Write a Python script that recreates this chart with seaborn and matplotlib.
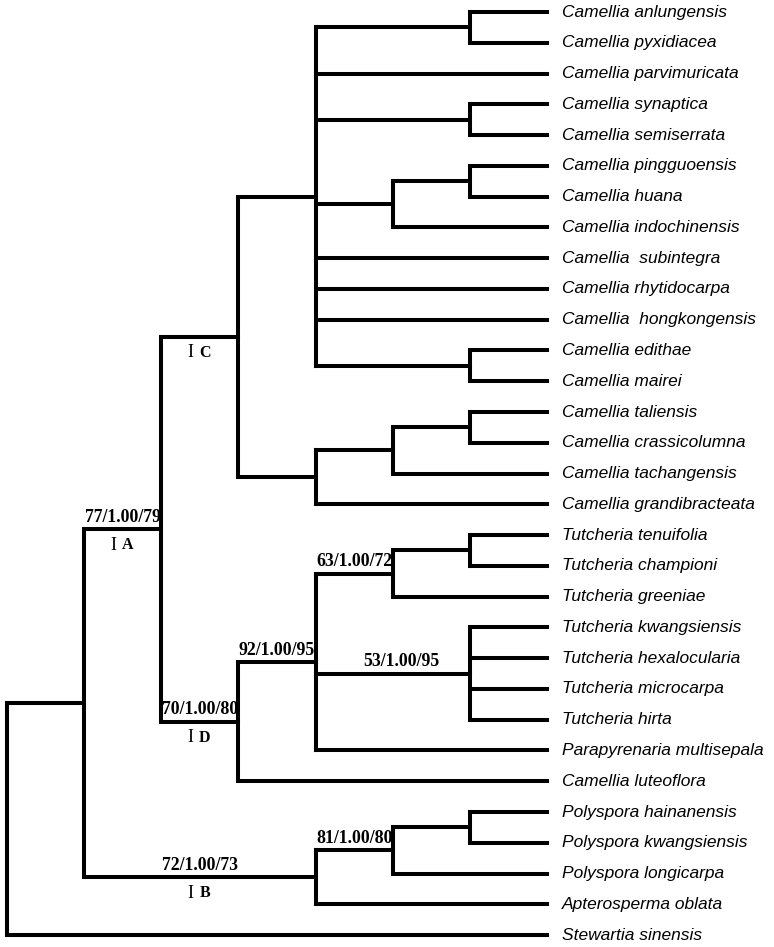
import pandas as pd
import seaborn as sns
import matplotlib.pyplot as plt

# tip names, top to bottom (double spaces are in the original)
taxa = [
    "Camellia anlungensis", "Camellia pyxidiacea", "Camellia parvimuricata",
    "Camellia synaptica", "Camellia semiserrata", "Camellia pingguoensis",
    "Camellia huana", "Camellia indochinensis", "Camellia  subintegra",
    "Camellia rhytidocarpa", "Camellia  hongkongensis", "Camellia edithae",
    "Camellia mairei", "Camellia taliensis", "Camellia crassicolumna",
    "Camellia tachangensis", "Camellia grandibracteata",
    "Tutcheria tenuifolia", "Tutcheria championi", "Tutcheria greeniae",
    "Tutcheria kwangsiensis", "Tutcheria hexalocularia", "Tutcheria microcarpa",
    "Tutcheria hirta", "Parapyrenaria multisepala", "Camellia luteoflora",
    "Polyspora hainanensis", "Polyspora kwangsiensis", "Polyspora longicarpa",
    "Apterosperma oblata", "Stewartia sinensis",
]

# topology, tips given by their index in taxa, internal nodes named
newick = ("((((((0,1),2,(3,4),((5,6),7),8,9,10,(11,12)),(((13,14),15),16))C,"
          "((((17,18),19)n63,(20,21,22,23)n53,24)n92,25)D)A,"
          "(((26,27),28)n81,29)B)in,30)root;")

support = {"A": "77/1.00/79", "D": "70/1.00/80", "n92": "92/1.00/95",
           "n63": "63/1.00/72", "n53": "53/1.00/95", "n81": "81/1.00/80",
           "B": "72/1.00/73"}
clades = ["A", "B", "C", "D"]


def parse(s, i=0):
    node = {"children": []}
    if s[i] == "(":
        i += 1
        while True:
            child, i = parse(s, i)
            node["children"].append(child)
            if s[i] == ",":
                i += 1
            else:
                i += 1
                break
    j = i
    while s[j] not in ",();":
        j += 1
    node["name"] = s[i:j]
    return node, j


tree, _ = parse(newick)
depth = 7


def layout(node):
    if not node["children"]:
        node["h"] = 0
        node["y"] = int(node["name"])
    else:
        for c in node["children"]:
            layout(c)
        node["h"] = 1 + max(c["h"] for c in node["children"])
        node["y"] = (node["children"][0]["y"] + node["children"][-1]["y"]) / 2
    node["x"] = depth - node["h"]


layout(tree)

rows = []
nodes = []


def segments(node):
    nodes.append(node)
    ch = node["children"]
    if not ch:
        return
    rows.append((node["x"], ch[0]["y"]))
    rows.append((node["x"], ch[-1]["y"]))
    for c in ch:
        rows.append((node["x"], c["y"]))
        rows.append((c["x"], c["y"]))
        c["px"] = node["x"]
        segments(c)


segments(tree)
df = pd.DataFrame(rows, columns=["x", "y"])
df["seg"] = df.index // 2

sns.set_style("white")
fig = plt.figure(figsize=(7.74, 9.47), dpi=100)
ax = fig.add_axes([0, 0, 1, 1])
sns.lineplot(data=df, x="x", y="y", units="seg", estimator=None, sort=False,
             color="black", linewidth=2.9, solid_capstyle="projecting",
             legend=False, ax=ax)

step = 77.14
ax.set_xlim(-7 / step, (774 - 7) / step)
ax.set_ylim((947 - 12) / 30.77, -12 / 30.77)
ax.axis("off")

for n in nodes:
    if not n["children"]:
        ax.annotate(taxa[int(n["name"])], (n["x"], n["y"]), xytext=(11, 0),
                    textcoords="offset points", va="center", ha="left",
                    fontsize=12.5, style="italic", color="black",
                    family="Liberation Sans")
        continue
    name = n["name"]
    xm = n.get("px", 0) / 2 + n["x"] / 2
    if name in support:
        dx = 6 if name == "n53" else 0
        ax.annotate(support[name], (xm, n["y"]), xytext=(dx, 2.5),
                    textcoords="offset points", ha="center", va="bottom",
                    fontsize=12.8, fontweight="bold", color="black",
                    family="Liberation Serif")
    if name in clades:
        ax.annotate("I", (xm, n["y"]), xytext=(-7, -11.5),
                    textcoords="offset points", ha="center", va="center",
                    fontsize=13, color="black", family="Liberation Serif")
        ax.annotate(name, (xm, n["y"]), xytext=(3.5, -11.5),
                    textcoords="offset points", ha="center", va="center",
                    fontsize=11.5, fontweight="bold", color="black",
                    family="Liberation Serif")

fig.savefig("out.png", dpi=100)
